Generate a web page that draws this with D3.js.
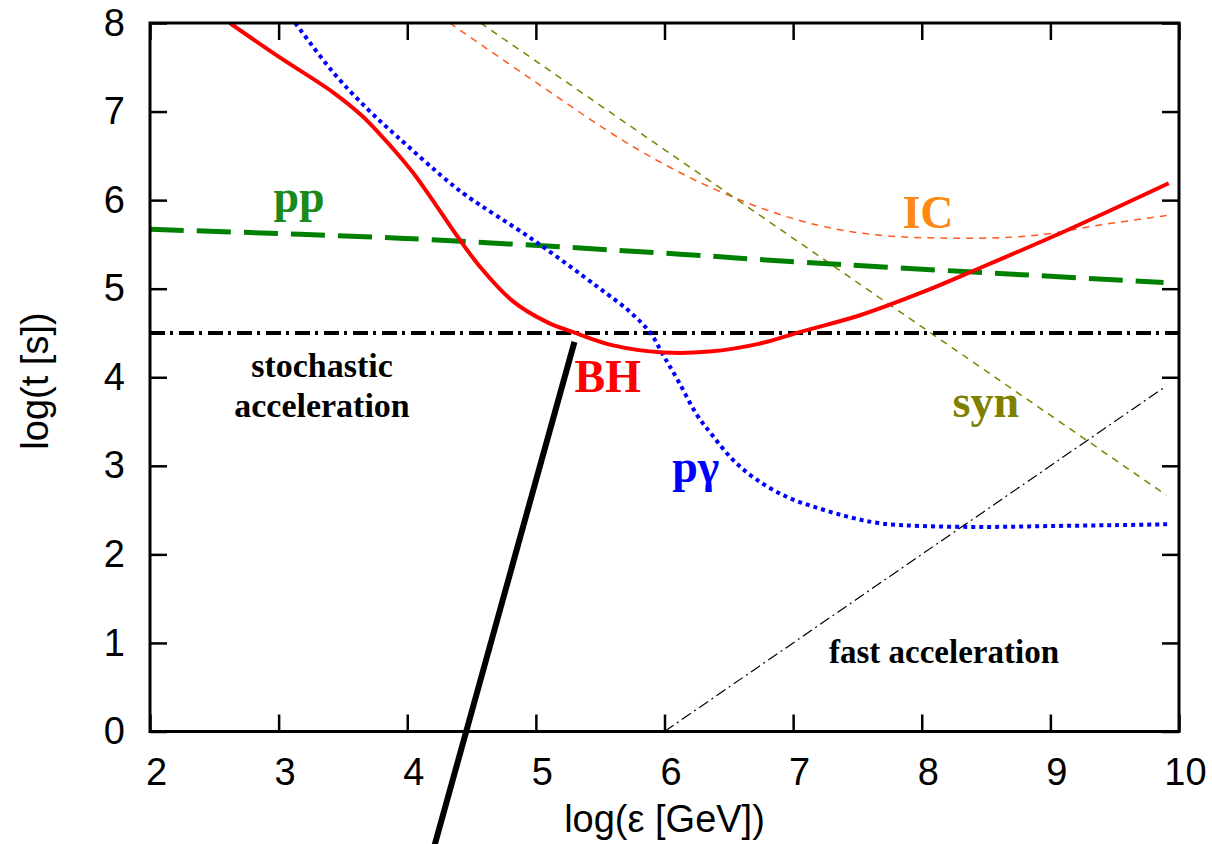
<!DOCTYPE html>
<html>
<head>
<meta charset="utf-8">
<script src="https://cdn.jsdelivr.net/npm/d3@7"></script>
<style>
  body { margin: 0; background: #fff; }
  svg { display: block; }
  .axis text { font-family: "Liberation Sans", Arial, sans-serif; font-size: 38px; fill: #000; }
  .axis line { stroke: #000; stroke-width: 2.5; }
  .axis path { display: none; }
  .lbl { font-family: "Liberation Serif", "Times New Roman", serif; font-weight: bold; }
</style>
</head>
<body>
<div id="chart"></div>
<script>
// tick values
var xTicks = [2, 3, 4, 5, 6, 7, 8, 9, 10];
var yTicks = [0, 1, 2, 3, 4, 5, 6, 7, 8];

// curves: [log eps, log t]
var bhCurve = [
  [2.62, 8.0], [3.0, 7.62], [3.42, 7.22], [3.65, 6.95], [3.79, 6.74], [3.92, 6.53],
  [4.05, 6.30], [4.23, 5.93], [4.40, 5.57], [4.57, 5.24], [4.82, 4.86], [5.09, 4.62],
  [5.29, 4.51], [5.60, 4.36], [5.99, 4.28], [6.35, 4.29], [6.74, 4.38], [7.05, 4.51],
  [7.52, 4.70], [8.04, 4.98], [8.35, 5.17], [9.13, 5.66], [9.92, 6.19]
];
var pgCurve = [
  [3.13, 8.0], [3.42, 7.45], [3.69, 7.03], [3.92, 6.72], [4.31, 6.22], [4.46, 6.05],
  [4.98, 5.55], [5.48, 5.02], [5.73, 4.74], [5.89, 4.50], [5.99, 4.25], [6.11, 3.95],
  [6.25, 3.58], [6.38, 3.33], [6.53, 3.07], [6.71, 2.85], [6.95, 2.65], [7.20, 2.52],
  [7.44, 2.42], [7.68, 2.35], [8.0, 2.32], [8.5, 2.31], [9.0, 2.32], [9.5, 2.33], [9.92, 2.34]
];
var ppCurve = [[2.0, 5.67], [3.94, 5.57], [6.12, 5.39], [7.05, 5.30], [9.88, 5.07]];
var icCurve = [
  [4.33, 8.0], [4.98, 7.35], [5.76, 6.60], [6.41, 6.11], [7.05, 5.77], [7.57, 5.62],
  [8.22, 5.57], [8.87, 5.60], [9.39, 5.72], [9.92, 5.83]
];
var synLine = [[4.57, 8.0], [9.9, 2.67]];
var fastLine = [[6.0, 0.0], [9.9, 3.9]];
var stochLine = [[2.0, 4.5], [10.0, 4.5]];
var thickLine = [[4.20, -1.35], [5.30, 4.40]];

// labels: text, left x, baseline y (data units)
var curveLabels = [
  { text: "pp", x: 2.96, y: 5.87, color: "#1a8a1a", size: 46 },
  { text: "BH", x: 5.30, y: 3.83, color: "#ff0000", size: 46 },
  { text: "IC", x: 7.85, y: 5.68, color: "#ff8811", size: 46 },
  { text: "pγ", x: 6.06, y: 2.82, color: "#0000ff", size: 46 },
  { text: "syn", x: 8.24, y: 3.55, color: "#808000", size: 46 }
];

var width = 1212, height = 844;
var margin = { top: 23, left: 150, right: 33, bottom: 112.5 };

var x = d3.scaleLinear().domain([2, 10]).range([margin.left, width - margin.right]);
var y = d3.scaleLinear().domain([0, 8]).range([height - margin.bottom, margin.top]);

var svg = d3.select("#chart").append("svg")
  .attr("width", width)
  .attr("height", height);

svg.append("clipPath").attr("id", "plot")
  .append("rect")
  .attr("x", x(2)).attr("y", y(8))
  .attr("width", x(10) - x(2)).attr("height", y(0) - y(8));

var line = d3.line().x(d => x(d[0])).y(d => y(d[1]));
var smooth = d3.line().x(d => x(d[0])).y(d => y(d[1])).curve(d3.curveCatmullRom.alpha(0.5));

var plot = svg.append("g").attr("clip-path", "url(#plot)");

// thin dashed IC and syn
plot.append("path").datum(icCurve)
  .attr("d", smooth).attr("fill", "none")
  .attr("stroke", "#ff5a1e").attr("stroke-width", 1.5)
  .attr("stroke-dasharray", "7,6");

plot.append("path").datum(synLine)
  .attr("d", line).attr("fill", "none")
  .attr("stroke", "#808000").attr("stroke-width", 1.5)
  .attr("stroke-dasharray", "7,6");

// fast acceleration
plot.append("path").datum(fastLine)
  .attr("d", line).attr("fill", "none")
  .attr("stroke", "#000").attr("stroke-width", 1.2)
  .attr("stroke-dasharray", "11,4,2,4");

// stochastic acceleration
plot.append("path").datum(stochLine)
  .attr("d", line).attr("fill", "none")
  .attr("stroke", "#000").attr("stroke-width", 4)
  .attr("stroke-dasharray", "15,5,3,6");

// pp
plot.append("path").datum(ppCurve)
  .attr("d", smooth).attr("fill", "none")
  .attr("stroke", "#008000").attr("stroke-width", 5)
  .attr("stroke-dasharray", "34,13");

// p gamma
plot.append("path").datum(pgCurve)
  .attr("d", smooth).attr("fill", "none")
  .attr("stroke", "#0000ff").attr("stroke-width", 4)
  .attr("stroke-dasharray", "4,4");

// BH
plot.append("path").datum(bhCurve)
  .attr("d", smooth).attr("fill", "none")
  .attr("stroke", "#ff0000").attr("stroke-width", 4);

// axes, ticks on all sides pointing in
var gx = svg.append("g").attr("class", "axis")
  .attr("transform", `translate(0,${y(0)})`)
  .call(d3.axisBottom(x).tickValues(xTicks).tickSizeInner(-17).tickSizeOuter(0).tickPadding(27).tickFormat(d3.format("d")));
gx.selectAll("text").attr("dx", 6);

svg.append("g").attr("class", "axis")
  .attr("transform", `translate(0,${y(8)})`)
  .call(d3.axisTop(x).tickValues(xTicks).tickSizeInner(-17).tickSizeOuter(0).tickFormat(""));

svg.append("g").attr("class", "axis")
  .attr("transform", `translate(${x(2)},0)`)
  .call(d3.axisLeft(y).tickValues(yTicks).tickSizeInner(-17).tickSizeOuter(0).tickPadding(25).tickFormat(d3.format("d")));

svg.append("g").attr("class", "axis")
  .attr("transform", `translate(${x(10)},0)`)
  .call(d3.axisRight(y).tickValues(yTicks).tickSizeInner(-17).tickSizeOuter(0).tickFormat(""));

svg.append("rect")
  .attr("x", x(2)).attr("y", y(8))
  .attr("width", x(10) - x(2)).attr("height", y(0) - y(8))
  .attr("fill", "none").attr("stroke", "#000").attr("stroke-width", 3);

// thick black line, not clipped
svg.append("path").datum(thickLine)
  .attr("d", line).attr("fill", "none")
  .attr("stroke", "#000").attr("stroke-width", 6);

// axis titles
svg.append("text")
  .attr("x", (x(2) + x(10)) / 2).attr("y", 832)
  .attr("text-anchor", "middle")
  .style("font-family", "'Liberation Sans', Arial, sans-serif")
  .style("font-size", "38px")
  .text("log(ε [GeV])");

svg.append("text")
  .attr("transform", `translate(48,${381}) rotate(-90)`)
  .attr("text-anchor", "middle")
  .style("font-family", "'Liberation Sans', Arial, sans-serif")
  .style("font-size", "38px")
  .text("log(t [s])");

// curve labels
svg.selectAll(".curve-lbl")
  .data(curveLabels)
  .enter().append("text")
  .attr("class", "lbl curve-lbl")
  .attr("x", d => x(d.x)).attr("y", d => y(d.y))
  .attr("fill", d => d.color)
  .style("font-size", d => d.size + "px")
  .text(d => d.text);

// region labels
var stoch = svg.append("text").attr("class", "lbl")
  .attr("text-anchor", "middle")
  .style("font-size", "34px");
stoch.append("tspan").attr("x", 322).attr("y", 377).text("stochastic");
stoch.append("tspan").attr("x", 322).attr("y", 417).text("acceleration");

svg.append("text").attr("class", "lbl")
  .attr("x", 944).attr("y", 663)
  .attr("text-anchor", "middle")
  .style("font-size", "33px")
  .text("fast acceleration");
</script>
</body>
</html>
